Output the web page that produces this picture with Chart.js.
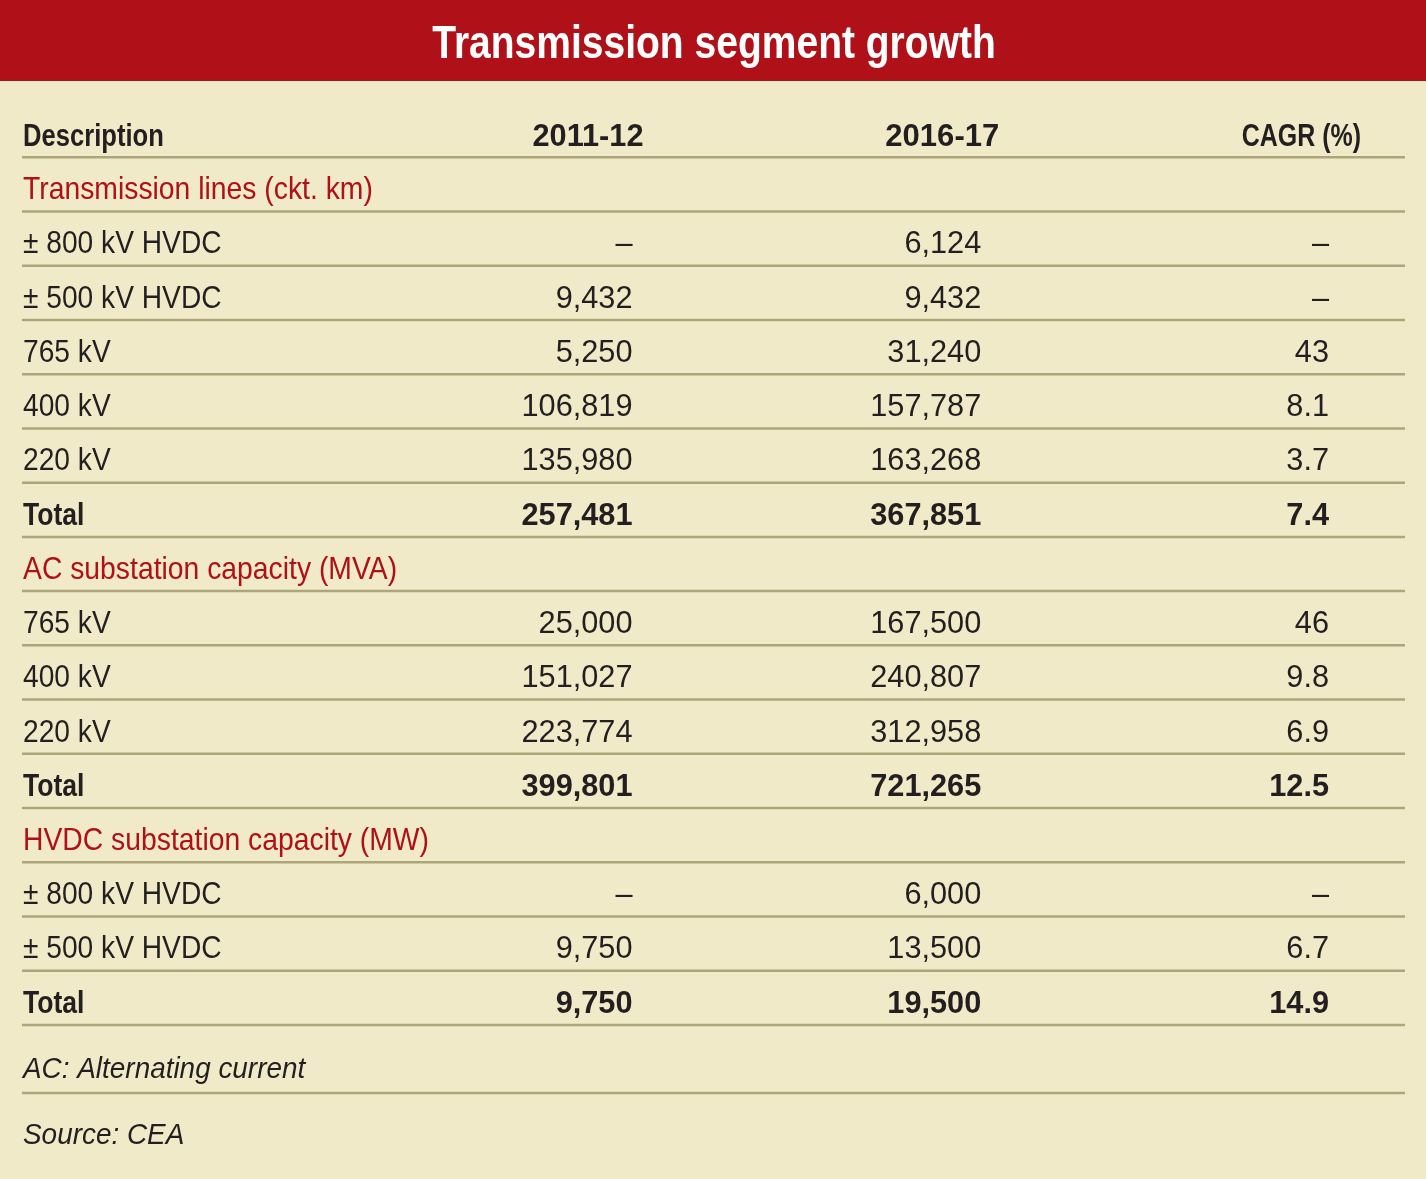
<!DOCTYPE html>
<html>
<head>
<meta charset="utf-8">
<title>Transmission segment growth</title>
<script src="https://cdn.jsdelivr.net/npm/chart.js@4.4.1/dist/chart.umd.min.js"></script>
<style>
  html, body { margin: 0; padding: 0; background: #f0eac8; }
  #wrap { width: 1426px; height: 1179px; }
</style>
</head>
<body>
<div id="wrap"><canvas id="tableChart"></canvas></div>
<script>
'use strict';

/* #################### data #################### */
const chartTitle = 'Transmission segment growth';
const columnHeaders = ['Description', '2011-12', '2016-17', 'CAGR (%)'];

// kind: section = red group heading, item = normal row, total = bold row
const rowLabels = [
  'Transmission lines (ckt. km)',
  '± 800 kV HVDC', '± 500 kV HVDC', '765 kV', '400 kV', '220 kV', 'Total',
  'AC substation capacity (MVA)',
  '765 kV', '400 kV', '220 kV', 'Total',
  'HVDC substation capacity (MW)',
  '± 800 kV HVDC', '± 500 kV HVDC', 'Total'
];
const rowKinds = [
  'section',
  'item', 'item', 'item', 'item', 'item', 'total',
  'section',
  'item', 'item', 'item', 'total',
  'section',
  'item', 'item', 'total'
];
// null = dash in the table, undefined = empty cell (section headings)
const values2011 = [undefined, null, 9432, 5250, 106819, 135980, 257481,
  undefined, 25000, 151027, 223774, 399801,
  undefined, null, 9750, 9750];
const values2016 = [undefined, 6124, 9432, 31240, 157787, 163268, 367851,
  undefined, 167500, 240807, 312958, 721265,
  undefined, 6000, 13500, 19500];
const cagrValues = [undefined, null, null, 43, 8.1, 3.7, 7.4,
  undefined, 46, 9.8, 6.9, 12.5,
  undefined, null, 6.7, 14.9];
const footNotes = ['AC: Alternating current', 'Source: CEA'];

/* #################### styles #################### */
const bgColor = '#f0eac8';
const redColor = '#b01018';
const textColor = '#231f20';
const ruleColor = '#aca67a';
const titleBarHeight = 81;
const fontFamily = "'Liberation Sans', Arial, sans-serif";
const headerInsets = [0, 70, 60, 44];   // right inset of header text from column edge
const valueInsets = [0, 81, 78, 76];    // right inset of values from column edge
const headerSqueeze = [0.80, 0.96, 0.97, 0.78];  // horizontal condensing per header
const labelSqueeze = { section: 0.885, item: 0.88, total: 0.83 };
const numberSqueeze = 0.96;
const noteSqueeze = 0.93;

/* #################### helpers #################### */
function formatCell(value) {
  if (value === undefined) return '';
  if (value === null) return '–';
  if (value >= 1000) return value.toLocaleString('en-US');
  return String(value);
}

function drawText(ctx, text, x, y, align, font, color, sx) {
  ctx.save();
  ctx.translate(x, y);
  ctx.scale(sx, 1);
  ctx.font = font;
  ctx.fillStyle = color;
  ctx.textAlign = align;
  ctx.textBaseline = 'middle';
  ctx.fillText(text, 0, 0);
  ctx.restore();
}

function rule(ctx, left, right, y) {
  ctx.save();
  ctx.strokeStyle = ruleColor;
  ctx.lineWidth = 2.5;
  ctx.beginPath();
  ctx.moveTo(left, y);
  ctx.lineTo(right, y);
  ctx.stroke();
  ctx.restore();
}

/* build one scatter dataset per column: each point is a table cell */
function buildDatasets() {
  let columns = [rowLabels, values2011, values2016, cagrValues];
  let datasets = [];

  for (let col = 0; col < columns.length; col++) {
    let points = [];
    for (let row = 0; row < rowLabels.length; row++) {
      let text = col === 0 ? rowLabels[row] : formatCell(columns[col][row]);
      points.push({ x: columnHeaders[col], y: row, text: text, kind: rowKinds[row] });
    }
    datasets.push({ label: columnHeaders[col], data: points, pointRadius: 0, pointHoverRadius: 0 });
  }
  return datasets;
}

/* #################### table plugin #################### */
const tablePlugin = {
  id: 'tablePlugin',
  beforeDraw(chart) {
    let ctx = chart.ctx;
    ctx.save();
    ctx.fillStyle = bgColor;
    ctx.fillRect(0, 0, chart.width, chart.height);
    ctx.fillStyle = redColor;
    ctx.fillRect(0, 0, chart.width, titleBarHeight);
    ctx.restore();
    drawText(ctx, chartTitle, chart.width / 2 + 1, 45, 'center',
      'bold 47px ' + fontFamily, '#ffffff', 0.83);
  },
  afterDatasetsDraw(chart) {
    let ctx = chart.ctx;
    let area = chart.chartArea;
    let xScale = chart.scales.x;
    let yScale = chart.scales.y;
    let half = xScale.width / columnHeaders.length / 2;

    // horizontal rules under the header and every row
    for (let row = -1; row < rowLabels.length; row++) {
      rule(ctx, area.left, area.right, yScale.getPixelForValue(row + 0.5));
    }

    // header row
    let headY = yScale.getPixelForValue(-1) + 7;
    let headFont = 'bold 32px ' + fontFamily;
    for (let col = 0; col < columnHeaders.length; col++) {
      let cx = xScale.getPixelForValue(col);
      if (col === 0) {
        drawText(ctx, columnHeaders[col], area.left + 1, headY, 'left', headFont, textColor, headerSqueeze[col]);
      } else {
        drawText(ctx, columnHeaders[col], cx + half - headerInsets[col], headY, 'right', headFont, textColor, headerSqueeze[col]);
      }
    }

    // cells
    chart.data.datasets.forEach((dataset, col) => {
      let meta = chart.getDatasetMeta(col);
      meta.data.forEach((el, i) => {
        let cell = dataset.data[i];
        if (!cell.text) return;
        let y = el.y + 6;
        let font = (cell.kind === 'total' ? 'bold ' : '') + '32px ' + fontFamily;
        let color = cell.kind === 'section' ? redColor : textColor;
        if (col === 0) {
          drawText(ctx, cell.text, area.left + 1, y, 'left', font, color, labelSqueeze[cell.kind]);
        } else {
          drawText(ctx, cell.text, el.x + half - valueInsets[col], y, 'right', font, color, numberSqueeze);
        }
      });
    });

    // footnotes
    let noteFont = 'italic 30px ' + fontFamily;
    drawText(ctx, footNotes[0], area.left + 1, area.bottom + 45, 'left', noteFont, textColor, noteSqueeze);
    rule(ctx, area.left, area.right, area.bottom + 68);
    drawText(ctx, footNotes[1], area.left + 1, area.bottom + 111, 'left', noteFont, textColor, noteSqueeze);
  }
};

/* #################### chart #################### */
function main() {
  const config = {
    type: 'scatter',
    data: { datasets: buildDatasets() },
    options: {
      responsive: true,
      maintainAspectRatio: false,
      animation: false,
      events: [],
      layout: { padding: { left: 22, right: 21, top: 103, bottom: 154 } },
      plugins: { legend: { display: false }, tooltip: { enabled: false }, title: { display: false } },
      scales: {
        x: { type: 'category', labels: columnHeaders, offset: true, display: false },
        y: { type: 'linear', min: -1.5, max: rowLabels.length - 0.5, reverse: true, display: false }
      }
    },
    plugins: [tablePlugin]
  };

  new Chart(document.getElementById('tableChart'), config);
}

main();
</script>
</body>
</html>
